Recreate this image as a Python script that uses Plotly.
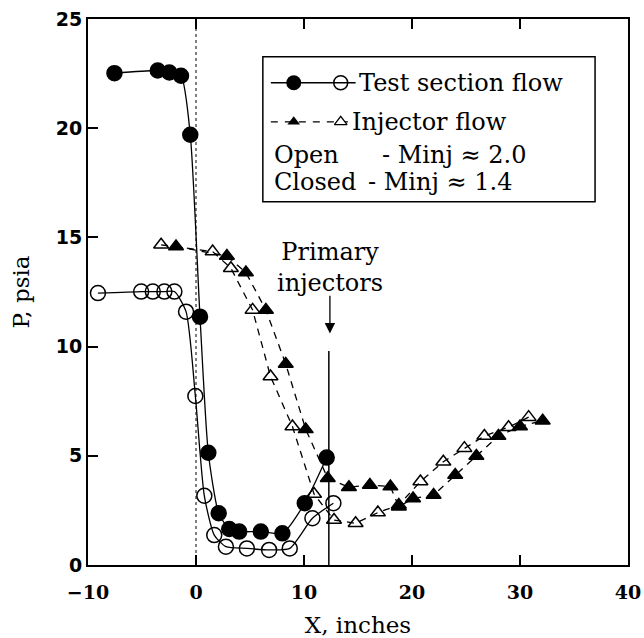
import plotly.graph_objects as go

# Test section flow, open injectors (filled circles)
ts_open_x = [-7.55, -3.54, -2.47, -1.39, -0.53, 0.37, 1.14, 2.10, 3.08, 4.0, 6.0, 8.0, 10.07, 12.1]
ts_open_y = [22.52, 22.64, 22.55, 22.40, 19.70, 11.37, 5.14, 2.37, 1.65, 1.53, 1.53, 1.45, 2.83, 4.92]

# Test section flow, closed injectors (open circles)
ts_closed_x = [-9.08, -5.08, -4.0, -2.93, -2.0, -0.92, -0.06, 0.77, 1.69, 2.77, 4.71, 6.77, 8.68, 10.78, 12.72]
ts_closed_y = [12.45, 12.52, 12.52, 12.52, 12.52, 11.6, 7.74, 3.17, 1.37, 0.84, 0.76, 0.69, 0.76, 2.14, 2.83]

# Injector flow, open injectors (filled triangles)
inj_open_x = [-1.85, 2.86, 4.62, 6.47, 8.31, 10.16, 12.2, 14.16, 16.1, 18.0, 18.78, 20.1, 22.0, 24.0, 25.96, 28.0, 30.0, 32.1]
inj_open_y = [14.58, 14.15, 13.39, 11.68, 9.2, 6.21, 3.97, 3.56, 3.66, 3.59, 2.67, 3.05, 3.21, 4.12, 4.99, 5.91, 6.34, 6.61]

# Injector flow, closed injectors (open triangles)
inj_closed_x = [-3.23, 1.54, 3.23, 5.24, 6.9, 8.93, 10.93, 12.78, 14.78, 16.84, 18.78, 20.78, 22.9, 24.85, 26.7, 28.94, 30.8]
inj_closed_y = [14.66, 14.35, 13.59, 11.68, 8.63, 6.34, 3.25, 2.06, 1.91, 2.40, 2.75, 3.82, 4.73, 5.35, 5.91, 6.31, 6.77]

x_ticks = [-10, 0, 10, 20, 30, 40]
x_ticktext = ["\u221210", "0", "10", "20", "30", "40"]
y_ticks = [0, 5, 10, 15, 20, 25]

SERIF = "DejaVu Serif"
fig = go.Figure()

def add(x, y, symbol, dash, size, shape="spline"):
    fig.add_trace(go.Scatter(
        x=x, y=y, mode="lines+markers",
        line=dict(color="black", width=1.3, dash=dash, shape=shape, smoothing=0.6),
        marker=dict(symbol=symbol, size=size, color="black",
                    line=dict(color="black", width=1.5)),
        showlegend=False, hoverinfo="skip"))

add(inj_closed_x, inj_closed_y, "triangle-up-open", "7px,6px", 13, "linear")
add(inj_open_x, inj_open_y, "triangle-up", "7px,6px", 13, "linear")
add(ts_closed_x, ts_closed_y, "circle-open", None, 15)
add(ts_open_x, ts_open_y, "circle", None, 15)

# Legend samples
fig.add_trace(go.Scatter(x=[6.93, 14.78], y=[22.08, 22.08], mode="lines",
                         line=dict(color="black", width=1.3), showlegend=False, hoverinfo="skip"))
fig.add_trace(go.Scatter(x=[9.05], y=[22.08], mode="markers",
                         marker=dict(symbol="circle", size=15, color="black"), showlegend=False, hoverinfo="skip"))
fig.add_trace(go.Scatter(x=[13.4], y=[22.08], mode="markers",
                         marker=dict(symbol="circle-open", size=14, color="black", line=dict(width=1.5)),
                         showlegend=False, hoverinfo="skip"))
fig.add_trace(go.Scatter(x=[6.93, 14.1], y=[20.29, 20.29], mode="lines",
                         line=dict(color="black", width=1.3, dash="7px,7px"), showlegend=False, hoverinfo="skip"))
fig.add_trace(go.Scatter(x=[9.05], y=[20.29], mode="markers",
                         marker=dict(symbol="triangle-up", size=11, color="black"), showlegend=False, hoverinfo="skip"))
fig.add_trace(go.Scatter(x=[13.4], y=[20.29], mode="markers",
                         marker=dict(symbol="triangle-up", size=11, color="white", line=dict(color="black", width=1.3)),
                         showlegend=False, hoverinfo="skip"))

shapes = [
    dict(type="line", xref="x", yref="y", x0=0, x1=0, y0=0, y1=25,
         line=dict(color="black", width=1, dash="dot")),
    dict(type="line", xref="x", yref="y", x0=12.3, x1=12.3, y0=0, y1=9.8,
         line=dict(color="black", width=1.5)),
    dict(type="rect", xref="x", yref="y", x0=6.19, x1=36.95, y0=16.63, y1=23.27,
         line=dict(color="black", width=1.5), fillcolor="rgba(0,0,0,0)", layer="below"),
]

ann = []
def txt(x, y, s, anchor="left", size=24):
    ann.append(dict(x=x, y=y, xref="x", yref="y", text=s, showarrow=False,
                    xanchor=anchor, yanchor="middle", font=dict(family=SERIF, size=size, color="black")))

txt(14.9, 22.08, "Test section flow")
txt(14.3, 20.29, "Injector flow")
txt(7.0, 18.78, "Open")
txt(17.0, 18.78, "- Minj \u2248 2.0")
txt(7.0, 17.54, "Closed")
txt(15.7, 17.54, "- Minj \u2248 1.4")
ann.append(dict(x=12.4, y=13.6, xref="x", yref="y", text="Primary<br>injectors", showarrow=False,
                xanchor="center", yanchor="middle", font=dict(family=SERIF, size=24, color="black")))
ann.append(dict(x=12.4, y=10.6, ax=12.4, ay=12.4, xref="x", yref="y", axref="x", ayref="y",
                text="", showarrow=True, arrowhead=2, arrowsize=1.6, arrowwidth=1.3, arrowcolor="black"))

fig.update_layout(
    width=644, height=638,
    margin=dict(l=88, r=16, t=19, b=73),
    paper_bgcolor="white", plot_bgcolor="white",
    shapes=shapes, annotations=ann,
    xaxis=dict(range=[-10, 40], tickvals=x_ticks, ticktext=x_ticktext,
               ticks="inside", ticklen=10, tickwidth=1.5, tickcolor="black",
               showline=True, linewidth=2, linecolor="black", mirror="ticks",
               showgrid=False, zeroline=False, automargin=False, ticklabelstandoff=9,
               tickfont=dict(family=SERIF, size=19, color="black", weight="bold"),
               title=dict(text="X, inches", font=dict(family=SERIF, size=23, color="black"), standoff=16)),
    yaxis=dict(range=[0, 25], tickvals=y_ticks,
               ticks="inside", ticklen=10, tickwidth=1.5, tickcolor="black",
               showline=True, linewidth=2, linecolor="black", mirror=True,
               showgrid=False, zeroline=False, automargin=False,
               tickfont=dict(family="DejaVu Sans", size=19, color="black", weight="bold"),
               title=dict(text="P, psia", font=dict(family=SERIF, size=23, color="black"), standoff=20)),
)

fig.write_html("out.html")
